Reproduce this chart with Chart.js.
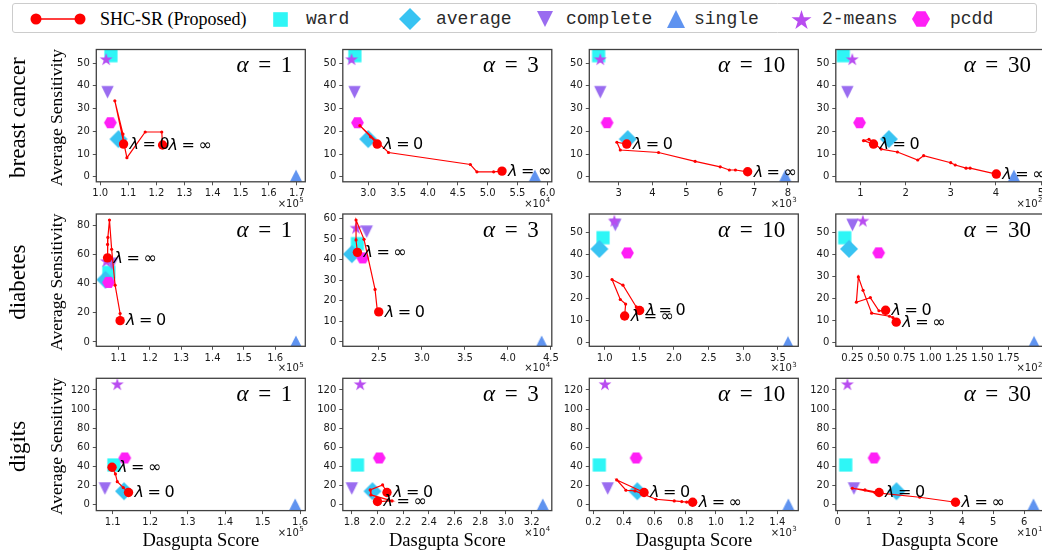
<!DOCTYPE html>
<html>
<head>
<meta charset="utf-8">
<script src="https://cdn.jsdelivr.net/npm/chart.js@4.4.1/dist/chart.umd.min.js"></script>
<style>
  html, body { margin: 0; padding: 0; background: #fff; }
  #page { position: relative; width: 1042px; height: 552px; overflow: hidden; background: #fff; }
  #page canvas.panel { position: absolute; left: 0; top: 0; }
  #legend { position: absolute; left: 12px; top: 3px; width: 1025px; height: 30px; box-sizing: border-box;
            border: 1px solid #cccccc; border-radius: 3px; background: #fff; }
  #legend .txt { position: absolute; top: 15px; transform: translateY(-52%); white-space: nowrap; color: #000; line-height: 1; }
  #legend .serif { font-family: "Liberation Serif", serif; font-size: 18px; }
  #legend .mono { font-family: "Liberation Mono", monospace; font-size: 18px; color: #2a2a2a; }
  #legend canvas { position: absolute; }
</style>
</head>
<body>
<div id="page">
  <div id="legend"></div>
</div>
<script>
// ---------------- data ----------------
const datasetNames = ['breast cancer', 'diabetes', 'digits'];
const alphaValues = ['1', '3', '10', '30'];
const proposedName = 'SHC-SR (Proposed)';
const methodNames = ['ward', 'average', 'complete', 'single', '2-means', 'pcdd'];

// Average Sensitivity of each baseline, per dataset (does not depend on α); order = methodNames
const baselineSensitivity = [
  [53.3, 16.6, 37.2, 0.3, 51.8, 23.8],
  [47.7, 42.6, 53.5, 0.0, 55.5, 40.8],
  [41.7, 14.3, 17.1, 0.0, 126.2, 49.0]
];

// Dasgupta Score of each baseline in units of 10^scoreExponent, [dataset][α][method]
const baselineDasgupta = [
  [[1.038, 1.065, 1.026, 1.697, 1.021, 1.036],
   [2.776, 3.000, 2.770, 5.790, 2.720, 2.820],
   [2.410, 3.270, 2.460, 7.920, 2.460, 2.660],
   [0.620, 1.630, 0.710, 4.400, 0.820, 0.980]],
  [[1.069, 1.058, 1.079, 1.666, 1.061, 1.068],
   [2.249, 2.184, 2.357, 4.392, 2.233, 2.311],
   [0.977, 0.924, 1.154, 3.645, 1.140, 1.330],
   [0.176, 0.217, 0.250, 1.996, 0.350, 0.502]],
  [[1.103, 1.130, 1.079, 1.587, 1.112, 1.132],
   [1.844, 1.961, 1.800, 3.287, 1.865, 2.014],
   [0.239, 0.487, 0.294, 1.472, 0.276, 0.479],
   [0.256, 1.890, 0.520, 6.300, 0.310, 1.170]]
];

const scoreExponent = [[5, 4, 3, 2], [5, 4, 3, 2], [5, 4, 3, 1]];

// SHC-SR regularisation path: first point is λ = 0, last point is λ = ∞
const shcDasgupta = [
  [[1.083, 1.081, 1.052, 1.095, 1.160, 1.219, 1.222],
   [3.15, 3.04, 2.86, 3.34, 4.71, 4.82, 5.10, 5.24],
   [3.24, 2.95, 3.05, 4.18, 5.26, 6.00, 6.27, 6.45, 6.81],
   [1.29, 1.07, 1.19, 1.46, 1.82, 2.27, 2.40, 3.00, 3.10, 3.34, 3.43, 4.01]],
  [[1.105, 1.105, 1.089, 1.078, 1.071, 1.066, 1.065, 1.065],
   [2.497, 2.480, 2.454, 2.326, 2.233, 2.233, 2.249],
   [1.505, 1.457, 1.265, 1.107, 1.226, 1.303, 1.289],
   [0.569, 0.505, 0.422, 0.288, 0.307, 0.352, 0.435, 0.607, 0.639, 0.671]],
  [[1.142, 1.128, 1.112, 1.107, 1.098],
   [2.074, 2.040, 1.943, 1.949, 2.113, 2.000],
   [0.531, 0.353, 0.413, 0.472, 0.609, 0.728, 0.777, 0.809, 0.848],
   [1.33, 0.875, 0.47, 1.195, 2.64, 3.79]]
];
const shcSensitivity = [
  [[14.4, 18.8, 33.4, 8.4, 19.7, 19.7, 14.0],
   [14.4, 17.6, 22.5, 10.7, 5.4, 2.2, 2.2, 2.5],
   [14.4, 15.2, 11.8, 10.7, 6.8, 4.4, 3.0, 3.0, 2.2],
   [14.4, 15.9, 16.5, 12.2, 10.9, 7.4, 9.3, 6.2, 5.2, 3.8, 3.8, 1.2]],
  [[14.6, 19.5, 38.9, 63.4, 83.5, 71.6, 66.8, 57.6],
   [14.6, 15.4, 25.5, 49.8, 59.2, 49.5, 43.5],
   [14.6, 16.2, 26.1, 28.7, 19.6, 17.5, 12.1],
   [14.6, 14.4, 20.4, 18.3, 29.8, 23.7, 13.3, 11.9, 11.3, 9.2]],
  [[12.9, 18.1, 24.3, 32.3, 39.3],
   [12.9, 20.9, 15.6, 10.4, 4.2, 3.5],
   [12.9, 26.1, 15.3, 14.6, 5.9, 4.2, 3.5, 3.0, 2.8],
   [12.9, 15.6, 17.4, 12.9, 8.0, 2.8]]
];

// axis ranges and tick labels, [dataset][α]
const xLimits = [
  [[0.986, 1.730], [2.574, 6.074], [2.135, 8.306], [0.455, 5.066]],
  [[1.029, 1.696], [2.079, 4.510], [0.779, 3.794], [0.090, 2.092]],
  [[1.056, 1.614], [1.730, 3.357], [0.174, 1.537], [-0.064, 6.640]]
];
const xTicks = [
  [[1.0, 1.1, 1.2, 1.3, 1.4, 1.5, 1.6, 1.7], [3.0, 3.5, 4.0, 4.5, 5.0, 5.5, 6.0], [3, 4, 5, 6, 7, 8], [1, 2, 3, 4, 5]],
  [[1.1, 1.2, 1.3, 1.4, 1.5, 1.6], [2.5, 3.0, 3.5, 4.0, 4.5], [1.0, 1.5, 2.0, 2.5, 3.0, 3.5], [0.25, 0.50, 0.75, 1.00, 1.25, 1.50, 1.75]],
  [[1.1, 1.2, 1.3, 1.4, 1.5, 1.6], [1.8, 2.0, 2.2, 2.4, 2.6, 2.8, 3.0, 3.2], [0.2, 0.4, 0.6, 0.8, 1.0, 1.2, 1.4], [0, 1, 2, 3, 4, 5, 6]]
];
const xTickDecimals = [[1, 1, 0, 0], [1, 1, 1, 2], [1, 1, 1, 0]];
const yLimits = [
  [[-2.2, 56.0], [-2.2, 56.0], [-2.2, 56.0], [-2.2, 56.0]],
  [[-2.95, 87.6], [-2.1, 62.1], [-1.7, 58.5], [-1.8, 58.5]],
  [[-5.95, 132.2], [-5.95, 132.2], [-5.95, 132.2], [-5.95, 132.2]]
];
const yTicks = [
  [[0, 10, 20, 30, 40, 50], [0, 10, 20, 30, 40, 50], [0, 10, 20, 30, 40, 50], [0, 10, 20, 30, 40, 50]],
  [[0, 20, 40, 60, 80], [0, 10, 20, 30, 40, 50, 60], [0, 10, 20, 30, 40, 50], [0, 10, 20, 30, 40, 50]],
  [[0, 20, 40, 60, 80, 100, 120], [0, 20, 40, 60, 80, 100, 120], [0, 20, 40, 60, 80, 100, 120], [0, 20, 40, 60, 80, 100, 120]]
];

// ---------------- styling / layout ----------------
const RED = '#ff0000';
const FRAME_COLOR = '#404040';
const TEXT_COLOR = '#1a1a1a';
const methodColors = ['#2ef6f6', '#38c3f2', '#9a6cf0', '#5f93f0', '#b84cf0', '#ff1ff6'];
const methodShapes = ['square', 'diamond', 'triangleDown', 'triangleUp', 'star', 'hexagon'];
const methodSizes = [6.6, 9.0, 6.2, 6.6, 6.8, 6.4];
const legendSizes = [7.3, 11, 8, 9, 10.5, 9];

const colLeft = [96.3, 342.8, 589.3, 835.8];
const rowTop = [49.5, 214.0, 378.3];
const PANEL_W = 209, PANEL_H = 132.3;
const CANVAS_W = 1050, CANVAS_H = 552;
const Y_AXIS_W = 40, X_AXIS_H = 30;

Chart.defaults.font.family = '"DejaVu Sans"';
Chart.defaults.color = TEXT_COLOR;

function traceMarker(g, shape, s) {
  g.beginPath();
  if (shape === 'square') {
    g.rect(-s, -s, 2 * s, 2 * s);
  } else if (shape === 'diamond') {
    g.moveTo(0, -s); g.lineTo(s, 0); g.lineTo(0, s); g.lineTo(-s, 0);
  } else if (shape === 'triangleDown') {
    g.moveTo(0, s); g.lineTo(-s, -s); g.lineTo(s, -s);
  } else if (shape === 'triangleUp') {
    g.moveTo(0, -s); g.lineTo(-s, s); g.lineTo(s, s);
  } else if (shape === 'star') {
    for (let i = 0; i < 10; i++) {
      const rr = i % 2 ? s * 0.382 : s;
      const a = -Math.PI / 2 + i * Math.PI / 5;
      const px = rr * Math.cos(a), py = rr * Math.sin(a) + s * 0.1;
      if (i === 0) g.moveTo(px, py); else g.lineTo(px, py);
    }
  } else if (shape === 'hexagon') {
    for (let i = 0; i < 6; i++) {
      const a = i * Math.PI / 3;
      const px = s * Math.cos(a), py = s * Math.sin(a);
      if (i === 0) g.moveTo(px, py); else g.lineTo(px, py);
    }
  } else if (shape === 'circle') {
    g.arc(0, 0, s, 0, 2 * Math.PI);
  }
  g.closePath();
}

function markerCanvas(shape, color, s) {
  const size = Math.ceil(2 * s) + 2;
  const cv = document.createElement('canvas');
  cv.width = size; cv.height = size;
  const g = cv.getContext('2d');
  g.translate(size / 2, size / 2);
  g.fillStyle = color;
  traceMarker(g, shape, s);
  g.fill();
  return cv;
}

const markerImages = methodShapes.map((sh, k) => markerCanvas(sh, methodColors[k], methodSizes[k]));

// ---------------- text helpers ----------------
function drawAlpha(ctx, value, right, baseline) {
  const fs = 23;
  const it = `italic ${fs}px "Liberation Serif"`, up = `${fs}px "Liberation Serif"`;
  ctx.font = it; const wa = ctx.measureText('α').width;
  ctx.font = up; const we = ctx.measureText('=').width; const wv = ctx.measureText(value).width;
  const gap = 0.42 * fs;
  let x = right - (wa + gap + we + gap + wv);
  ctx.textAlign = 'left'; ctx.textBaseline = 'alphabetic';
  ctx.font = it; ctx.fillText('α', x, baseline); x += wa + gap;
  ctx.font = up; ctx.fillText('=', x, baseline); x += we + gap;
  ctx.fillText(value, x, baseline);
}

function drawLambda(ctx, x, baseline, sym) {
  const fs = 16;
  const it = `italic ${fs}px "DejaVu Sans"`, up = `${fs}px "DejaVu Sans"`;
  ctx.textAlign = 'left'; ctx.textBaseline = 'alphabetic';
  ctx.font = it; ctx.fillText('λ', x, baseline); x += ctx.measureText('λ').width + 0.22 * fs;
  ctx.font = up; ctx.fillText('=', x, baseline); x += ctx.measureText('=').width + 0.22 * fs;
  ctx.fillText(sym, x, baseline);
}

function drawOffset(ctx, exp, right, baseline) {
  ctx.textAlign = 'left'; ctx.textBaseline = 'alphabetic';
  ctx.font = '10px "DejaVu Sans"'; const wb = ctx.measureText('×10').width;
  ctx.font = '7px "DejaVu Sans"'; const we = ctx.measureText(String(exp)).width;
  const x0 = right - wb - we - 0.5;
  ctx.font = '10px "DejaVu Sans"'; ctx.fillText('×10', x0, baseline);
  ctx.font = '7px "DejaVu Sans"'; ctx.fillText(String(exp), x0 + wb + 0.5, baseline - 4.5);
}

const panelTextPlugin = {
  id: 'panelText',
  afterDatasetsDraw(chart) {
    const { ctx, chartArea: a } = chart;
    ctx.save();
    ctx.strokeStyle = FRAME_COLOR;
    ctx.lineWidth = 1.3;
    ctx.strokeRect(a.left, a.top, a.right - a.left, a.bottom - a.top);
    ctx.restore();
  },
  afterDraw(chart, args, opts) {
    const { ctx, chartArea: a, scales } = chart;
    const r = opts.row, c = opts.col;
    ctx.save();
    ctx.fillStyle = '#000';
    drawAlpha(ctx, alphaValues[c], a.right - 13, a.top + 22.5);

    const xs = shcDasgupta[r][c], ys = shcSensitivity[r][c], n = xs.length;
    drawLambda(ctx, scales.x.getPixelForValue(xs[0]) + 6, scales.y.getPixelForValue(ys[0]) + 4.8, '0');
    drawLambda(ctx, scales.x.getPixelForValue(xs[n - 1]) + 6, scales.y.getPixelForValue(ys[n - 1]) + 4.8, '∞');

    ctx.fillStyle = TEXT_COLOR;
    drawOffset(ctx, scoreExponent[r][c], a.right - 1.5, a.bottom + 25);

    ctx.fillStyle = '#000';
    const cy = (a.top + a.bottom) / 2 + 2;
    if (c === 0) {
      ctx.save();
      ctx.font = '23px "Liberation Serif"'; ctx.textAlign = 'center'; ctx.textBaseline = 'alphabetic';
      ctx.translate(25, cy); ctx.rotate(-Math.PI / 2);
      ctx.fillText(datasetNames[r], 0, 0);
      ctx.restore();
      ctx.save();
      ctx.font = '17.5px "Liberation Serif"'; ctx.textAlign = 'center'; ctx.textBaseline = 'alphabetic';
      ctx.translate(62, cy); ctx.rotate(-Math.PI / 2);
      ctx.fillText('Average Sensitivity', 0, 0);
      ctx.restore();
    }
    if (r === datasetNames.length - 1) {
      ctx.font = '18.5px "Liberation Serif"'; ctx.textAlign = 'center'; ctx.textBaseline = 'alphabetic';
      ctx.fillText('Dasgupta Score', (a.left + a.right) / 2, a.bottom + 35);
    }
    ctx.restore();
  }
};

// ---------------- panels ----------------
const page = document.getElementById('page');

function buildPanel(r, c) {
  const cv = document.createElement('canvas');
  cv.className = 'panel';
  cv.width = CANVAS_W; cv.height = CANVAS_H;
  cv.style.width = CANVAS_W + 'px'; cv.style.height = CANVAS_H + 'px';
  page.insertBefore(cv, document.getElementById('legend'));

  const L = colLeft[c], T = rowTop[r];
  const xs = shcDasgupta[r][c], ys = shcSensitivity[r][c], n = xs.length;

  const datasets = [{
    label: proposedName,
    data: xs.map((x, i) => ({ x, y: ys[i] })),
    showLine: true,
    borderColor: RED,
    borderWidth: 1.2,
    backgroundColor: RED,
    pointBackgroundColor: RED,
    pointBorderWidth: 0,
    pointStyle: 'circle',
    pointRadius: (ctx) => (ctx.dataIndex === 0 || ctx.dataIndex === n - 1) ? 4.7 : 1.6,
    clip: 0,
    order: 0
  }];
  // draw order: pcdd on top of the baselines, ward at the bottom
  const stackOrder = [6, 5, 4, 3, 2, 1];
  methodNames.forEach((m, k) => {
    datasets.push({
      label: m,
      data: [{ x: baselineDasgupta[r][c][k], y: baselineSensitivity[r][k] }],
      pointStyle: markerImages[k],
      pointRadius: 5,
      backgroundColor: methodColors[k],
      clip: 0,
      order: stackOrder[k]
    });
  });

  const tickGrid = { display: true, drawOnChartArea: false, drawTicks: true, tickLength: 3.5, color: FRAME_COLOR, lineWidth: 0.9 };

  new Chart(cv, {
    type: 'scatter',
    data: { datasets },
    options: {
      responsive: false,
      devicePixelRatio: 1,
      animation: false,
      events: [],
      layout: {
        padding: {
          left: L - Y_AXIS_W,
          top: T,
          right: CANVAS_W - (L + PANEL_W),
          bottom: CANVAS_H - (T + PANEL_H) - X_AXIS_H
        }
      },
      scales: {
        x: {
          type: 'linear', position: 'bottom', bounds: 'data',
          min: xLimits[r][c][0], max: xLimits[r][c][1],
          grid: tickGrid, border: { display: false },
          ticks: {
            autoSkip: false, maxRotation: 0, padding: 2.5,
            font: { family: '"DejaVu Sans"', size: 10 }, color: TEXT_COLOR,
            callback: (v) => Number(v).toFixed(xTickDecimals[r][c])
          },
          afterBuildTicks: (scale) => { scale.ticks = xTicks[r][c].map(v => ({ value: v })); },
          afterFit: (scale) => { scale.height = X_AXIS_H; }
        },
        y: {
          type: 'linear', position: 'left', bounds: 'data',
          min: yLimits[r][c][0], max: yLimits[r][c][1],
          grid: tickGrid, border: { display: false },
          ticks: {
            autoSkip: false, padding: 3,
            font: { family: '"DejaVu Sans"', size: 10 }, color: TEXT_COLOR,
            callback: (v) => String(Math.round(v))
          },
          afterBuildTicks: (scale) => { scale.ticks = yTicks[r][c].map(v => ({ value: v })); },
          afterFit: (scale) => { scale.width = Y_AXIS_W; }
        }
      },
      plugins: {
        legend: { display: false },
        tooltip: { enabled: false },
        panelText: { row: r, col: c }
      }
    },
    plugins: [panelTextPlugin]
  });
}

for (let r = 0; r < datasetNames.length; r++) {
  for (let c = 0; c < alphaValues.length; c++) buildPanel(r, c);
}

// ---------------- legend ----------------
(function buildLegend() {
  const lg = document.getElementById('legend');
  const OX = 13, CY = 15;   // legend box origin offset and centre line
  // proposed method: line with two dots
  const lineCv = document.createElement('canvas');
  lineCv.width = 64; lineCv.height = 16;
  lineCv.style.left = (30 - OX - 2) + 'px'; lineCv.style.top = (CY - 8) + 'px';
  const g = lineCv.getContext('2d');
  g.strokeStyle = RED; g.lineWidth = 1.5;
  g.beginPath(); g.moveTo(8, 8); g.lineTo(52, 8); g.stroke();
  g.fillStyle = RED;
  [8, 52].forEach(x => { g.beginPath(); g.arc(x, 8, 5.5, 0, 2 * Math.PI); g.fill(); });
  lg.appendChild(lineCv);
  const t0 = document.createElement('span');
  t0.className = 'txt serif'; t0.textContent = proposedName; t0.style.left = (100 - OX) + 'px';
  lg.appendChild(t0);

  const markerX = [280, 410, 545, 676, 801, 921];
  const textX = [306, 436, 566, 694, 822, 950];
  methodNames.forEach((m, k) => {
    const mc = markerCanvas(methodShapes[k], methodColors[k], legendSizes[k]);
    mc.style.left = (markerX[k] - OX - mc.width / 2) + 'px';
    mc.style.top = (CY - mc.height / 2) + 'px';
    lg.appendChild(mc);
    const t = document.createElement('span');
    t.className = 'txt mono'; t.textContent = m; t.style.left = (textX[k] - OX) + 'px';
    lg.appendChild(t);
  });
})();
</script>
</body>
</html>
